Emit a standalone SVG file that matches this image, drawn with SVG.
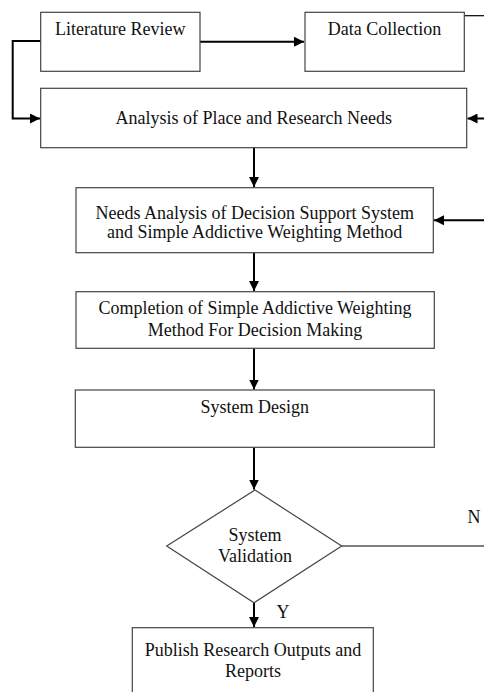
<svg xmlns="http://www.w3.org/2000/svg" width="484" height="692" viewBox="0 0 484 692">
<defs>
<marker id="ah" markerUnits="userSpaceOnUse" markerWidth="11" markerHeight="10" refX="10" refY="5" orient="auto">
<path d="M0,0 L10,5 L0,10 Z" fill="#000"/>
</marker>
<style>
.box{fill:#fff;stroke:#444;stroke-width:1.2}
.t{font-family:"Liberation Serif","Times New Roman",serif;font-size:18px;fill:#111;text-anchor:middle}
.c{fill:none;stroke:#000;stroke-width:2}
.thin{fill:none;stroke:#000;stroke-width:1.2}
</style>
</defs>
<rect width="484" height="692" fill="#fff"/>
<g id="connectors">
<path class="c" d="M200,41.7 H304" marker-end="url(#ah)"/>
<path class="c" d="M40.7,41 H12.7 V118.5 H40" marker-end="url(#ah)"/>
<path class="thin" d="M464.3,15.7 H484"/>
<path class="c" d="M484,118.5 H467.5" marker-end="url(#ah)"/>
<path class="c" d="M254,147.7 V187" marker-end="url(#ah)"/>
<path class="c" d="M484,220.3 H434" marker-end="url(#ah)"/>
<path class="c" d="M254,252.7 V291" marker-end="url(#ah)"/>
<path class="c" d="M254,348.3 V389.5" marker-end="url(#ah)"/>
<path class="c" d="M254,447.3 V489.5" marker-end="url(#ah)"/>
<path class="c" d="M254,602.7 V627" marker-end="url(#ah)"/>
<path class="thin" d="M341.7,546 H484"/>
<text class="t" x="474" y="522.7">N</text>
<text class="t" x="283" y="618.3">Y</text>
</g>
<g id="literature-review">
<rect class="box" x="40.7" y="12.3" width="159.3" height="59"/>
<text class="t" x="120.3" y="35">Literature Review</text>
</g>
<g id="data-collection">
<rect class="box" x="305" y="12.3" width="159.3" height="59"/>
<text class="t" x="384.5" y="35">Data Collection</text>
</g>
<g id="analysis-place">
<rect class="box" x="40.7" y="88.3" width="426" height="59.4"/>
<text class="t" x="253.7" y="124">Analysis of Place and Research Needs</text>
</g>
<g id="needs-analysis">
<rect class="box" x="76" y="187.7" width="357.3" height="65"/>
<text class="t" x="254.7" y="218.5">Needs Analysis of Decision Support System</text>
<text class="t" x="254.7" y="238">and Simple Addictive Weighting Method</text>
</g>
<g id="completion">
<rect class="box" x="76" y="291.7" width="358.3" height="56.6"/>
<text class="t" x="255" y="314">Completion of Simple Addictive Weighting</text>
<text class="t" x="255" y="335.7">Method For Decision Making</text>
</g>
<g id="system-design">
<rect class="box" x="75.3" y="390" width="359" height="57.3"/>
<text class="t" x="254.7" y="412.7">System Design</text>
</g>
<g id="system-validation">
<polygon class="box" points="255,490 341.7,546 254,602.7 166.7,546"/>
<text class="t" x="255" y="541">System</text>
<text class="t" x="255" y="562.3">Validation</text>
</g>
<g id="publish">
<rect class="box" x="132.3" y="627.7" width="241" height="80"/>
<text class="t" x="253" y="655.7">Publish Research Outputs and</text>
<text class="t" x="253" y="676.7">Reports</text>
</g>
</svg>
